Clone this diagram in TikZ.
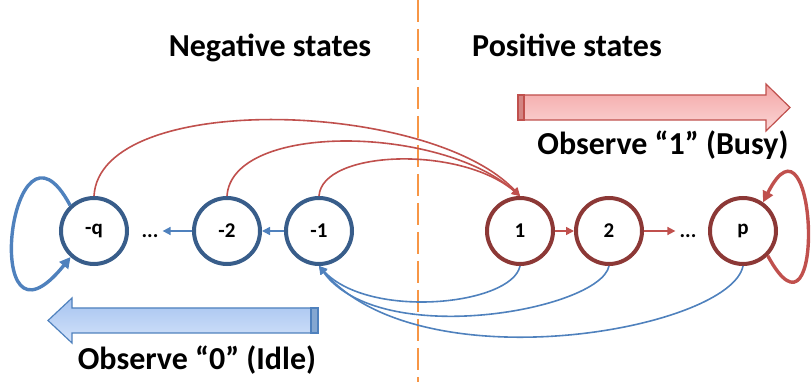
\documentclass[tikz,border=0pt]{standalone}
\usepackage{fontspec}
\setmainfont{Carlito}
\usetikzlibrary{arrows.meta}
\definecolor{negblue}{RGB}{56,93,138}
\definecolor{posred}{RGB}{140,56,54}
\definecolor{linkblue}{RGB}{79,129,189}
\definecolor{linkred}{RGB}{192,80,77}
\definecolor{divorange}{RGB}{247,150,70}

\begin{document}
\begin{tikzpicture}[x=1pt, y=-1pt,
	negstate/.style={circle, draw=negblue, line width=4pt, minimum size=66pt, inner sep=0pt, font=\fontsize{21}{25}\selectfont\bfseries},
	posstate/.style={negstate, draw=posred},
	gap/.style={inner sep=4pt, font=\fontsize{21}{25}\selectfont\bfseries},
	title/.style={anchor=base, font=\fontsize{32}{38}\selectfont\bfseries},
	bluelink/.style={draw=linkblue, line width=1.6pt, -{Triangle[length=8pt,width=8pt]}},
	redlink/.style={draw=linkred, line width=1.6pt, -{Triangle[length=8pt,width=8pt]}},
	blueloop/.style={draw=linkblue, line width=3.4pt, -{Triangle[length=11pt,width=11pt]}},
	redloop/.style={draw=linkred, line width=3.4pt, -{Triangle[length=11pt,width=11pt]}}]
	\useasboundingbox (0,0) rectangle (812,382);
	\draw[divorange, line width=2pt, dash pattern=on 22pt off 7pt] (418,0) -- (418,382);
	\node[title] (neg) at (270,57) {Negative states};
	\node[title] (pos) at (567,57) {Positive states};
	\draw[linkred, line width=1.2pt, top color={rgb,255:red,243;green,165;blue,165}, bottom color={rgb,255:red,251;green,214;blue,214}] (518,95) -- (766,95) -- (766,84) -- (790,107.5) -- (766,131) -- (766,120) -- (518,120) -- cycle;
	\draw[linkred, line width=1.2pt, fill=linkred!70] (518,95) rectangle (524,120);
	\node[title] (busy) at (663,155) {Observe “1” (Busy)};
	\draw[linkblue, line width=1.2pt, top color={rgb,255:red,165;green,195;blue,240}, bottom color={rgb,255:red,212;green,227;blue,250}] (318,308) -- (72,308) -- (72,298) -- (48,320.5) -- (72,343) -- (72,333) -- (318,333) -- cycle;
	\draw[linkblue, line width=1.2pt, fill=linkblue!70] (311,308) rectangle (318,333);
	\node[title] (idle) at (197,370) {Observe “0” (Idle)};
	\node[negstate] (mq) at (94,231) {-q};
	\node[negstate] (m2) at (227,231) {-2};
	\node[negstate] (m1) at (319,231) {-1};
	\node[posstate] (p1) at (520,231) {1};
	\node[posstate] (p2) at (609,231) {2};
	\node[posstate] (pp) at (743,231) {p};
	\node[gap] (dm) at (150,236) {...};
	\node[gap] (dp) at (688,236) {...};
	\draw[bluelink] (m1) -- (m2);
	\draw[bluelink] (m2) -- (m2 -| dm.east);
	\draw[redlink] (p1) -- (p2);
	\draw[redlink] (p2) -- (p2 -| dp.west);
	\draw[redlink] (mq.north) .. controls (100,90) and (430,100) .. (p1.north);
	\draw[redlink] (m2.north) .. controls (232,122) and (440,125) .. (p1.north);
	\draw[redlink] (m1.north) .. controls (322,150) and (460,145) .. (p1.north);
	\draw[bluelink] (p1.south) .. controls (512,305) and (370,320) .. (m1.south);
	\draw[bluelink] (p2.south) .. controls (600,310) and (380,350) .. (m1.south);
	\draw[bluelink] (pp.south) .. controls (730,330) and (420,385) .. (m1.south);
	\draw[blueloop] (mq.133) .. controls (10,92) and (-22,372) .. (mq.228);
	\draw[redloop] (pp.-45) .. controls (827,365) and (817,95) .. (pp.55);
\end{tikzpicture}
\end{document}
